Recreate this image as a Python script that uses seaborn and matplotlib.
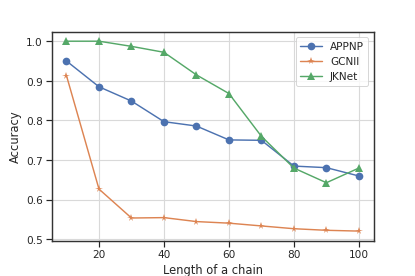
import numpy as np
import pandas as pd
import matplotlib
matplotlib.use("Agg")
import matplotlib.pyplot as plt
import seaborn as sns

# chain lengths and accuracy per model
chain_len = [10, 20, 30, 40, 50, 60, 70, 80, 90, 100]
appnp = [0.950, 0.885, 0.849, 0.797, 0.786, 0.751, 0.750, 0.685, 0.681, 0.660]
gcnii = [0.913, 0.627, 0.554, 0.555, 0.545, 0.541, 0.534, 0.527, 0.523, 0.521]
jknet = [1.000, 1.000, 0.987, 0.972, 0.915, 0.868, 0.760, 0.680, 0.643, 0.680]

models = ["APPNP", "GCNII", "JKNet"]
markers = {"APPNP": "o", "GCNII": "*", "JKNet": "^"}

df = pd.DataFrame({
    "Length of a chain": chain_len * 3,
    "Accuracy": appnp + gcnii + jknet,
    "model": np.repeat(models, len(chain_len)),
})

sns.set_theme(style="ticks", palette="deep")
plt.rcParams["font.family"] = ["DejaVu Sans"]

fig, ax = plt.subplots(figsize=(6, 4), dpi=415 / 6)
fig.subplots_adjust(left=0.125, right=0.9, top=0.883, bottom=0.128)

sns.lineplot(data=df, x="Length of a chain", y="Accuracy", hue="model",
             style="model", markers=markers, dashes=False, markersize=8,
             markeredgewidth=0, linewidth=1.5, ax=ax)

ax.grid(True, color="#d9d9d9", linewidth=1.2)
ax.set_axisbelow(True)
for s in ax.spines.values():
    s.set_color("#333333")
    s.set_linewidth(1.5)
ax.legend(title=None, loc="upper right", fontsize=11)

plt.savefig("out.png", dpi=415 / 6)
plt.close()
